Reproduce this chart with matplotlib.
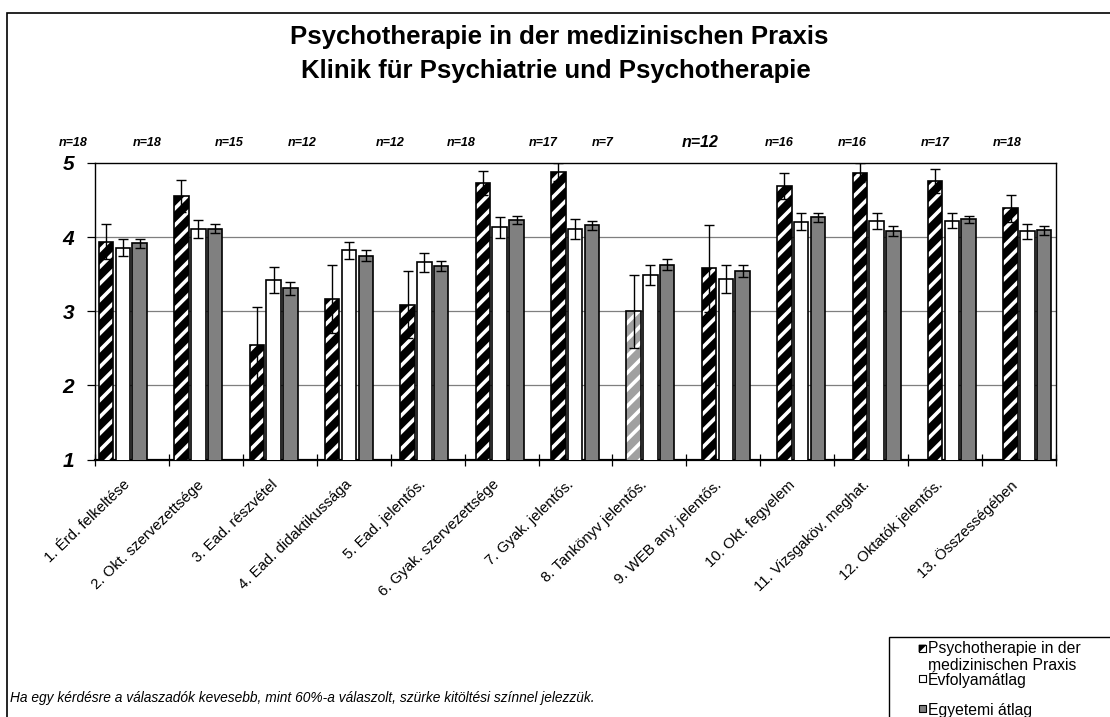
import numpy as np
import matplotlib
matplotlib.use("Agg")
import matplotlib.pyplot as plt
from matplotlib.patches import Rectangle, Polygon
from matplotlib.transforms import ScaledTranslation

plt.rcParams['font.family'] = ['Liberation Sans', 'DejaVu Sans']
plt.rcParams['hatch.linewidth'] = 2.6

# Kérdések (kategóriák)
categories = [
    "1. Érd. felkeltése", "2. Okt. szervezettsége", "3. Ead. részvétel",
    "4. Ead. didaktikussága", "5. Ead. jelentős.", "6. Gyak. szervezettsége",
    "7. Gyak. jelentős.", "8. Tankönyv jelentős.", "9. WEB any. jelentős.",
    "10. Okt. fegyelem", "11. Vizsgaköv. meghat.", "12. Oktatók jelentős.",
    "13. Összességében",
]
n_labels = ["n=18", "n=18", "n=15", "n=12", "n=12", "n=18", "n=17",
            "n=7", "n=12", "n=16", "n=16", "n=17", "n=18"]

# Klinika átlagai és hibái
clinic = [3.94, 4.555, 2.54, 3.17, 3.09, 4.73, 4.88, 3.00, 3.58, 4.69, 4.87, 4.76, 4.39]
clinic_err = [0.24, 0.22, 0.52, 0.46, 0.45, 0.16, 0.12, 0.49, 0.59, 0.18, 0.13, 0.16, 0.18]
# Évfolyamátlag
cohort = [3.86, 4.11, 3.42, 3.82, 3.66, 4.13, 4.11, 3.49, 3.44, 4.21, 4.22, 4.22, 4.08]
cohort_err = [0.12, 0.12, 0.18, 0.12, 0.13, 0.14, 0.14, 0.13, 0.19, 0.11, 0.11, 0.10, 0.10]
# Egyetemi átlag
univ = [3.92, 4.115, 3.31, 3.75, 3.61, 4.23, 4.16, 3.63, 3.54, 4.27, 4.08, 4.24, 4.09]
univ_err = [0.06, 0.06, 0.09, 0.07, 0.07, 0.05, 0.06, 0.08, 0.08, 0.06, 0.07, 0.05, 0.06]
# kevesebb mint 60% válaszolt -> szürke kitöltés
low_response = [False] * 7 + [True] + [False] * 5

legend_labels = ["Psychotherapie in der\nmedizinischen Praxis", "Évfolyamátlag", "Egyetemi átlag"]
title_lines = ["Psychotherapie in der medizinischen Praxis",
               "Klinik für Psychiatrie und Psychotherapie"]
footnote = "Ha egy kérdésre a válaszadók kevesebb, mint 60%-a válaszolt, szürke kitöltési színnel jelezzük."

W, H = 1110, 717


def fpos(x, y):
    # pixel -> figure koordináta
    return x / W, 1 - y / H


fig = plt.figure(figsize=(W / 100, H / 100), dpi=100)
ax = fig.add_axes([95 / W, 1 - 459.5 / H, (1056 - 95) / W, (459.5 - 163) / H])

n = len(categories)
# az oszlopcsoportok kicsit "elcsúsznak" a beosztáshoz képest, mint az eredetin
group_x = 0.3775 + np.arange(n) * 1.0195
off = 0.227
bw = 0.196

ek = dict(ecolor='black', elinewidth=1.0, capsize=3.5, capthick=1.0, fmt='none', zorder=5)

for i in range(n):
    x = group_x[i] - off
    face = '#a0a0a0' if low_response[i] else 'black'
    ax.bar(x, clinic[i], bw, bottom=0, color=face, edgecolor='white', hatch='//', lw=0, zorder=3)
    ax.bar(x, clinic[i], bw, bottom=0, fill=False, edgecolor='black', lw=1.2, zorder=4)

ax.bar(group_x, cohort, bw, color='white', edgecolor='black', lw=1.2, zorder=3)
ax.bar(group_x + off, univ, bw, color='#808080', edgecolor='black', lw=1.2, zorder=3)

ax.errorbar(group_x - off, clinic, yerr=clinic_err, **ek)
ax.errorbar(group_x, cohort, yerr=cohort_err, **ek)
ax.errorbar(group_x + off, univ, yerr=univ_err, **ek)

ax.set_ylim(1, 5)
ax.set_xlim(0, n)
ax.set_yticks([1, 2, 3, 4, 5])
ax.set_yticklabels(['1', '2', '3', '4', '5'], fontsize=15, fontweight='bold', fontstyle='italic')
ax.tick_params(axis='y', length=6, width=0.9, pad=9)
for y in [2, 3, 4]:
    ax.axhline(y, color='#7f7f7f', lw=0.9, zorder=1)

ax.set_xticks(np.arange(n) + 0.5)
ax.set_xticklabels(categories, rotation=44, ha='right', rotation_mode='anchor', fontsize=10.8)
ax.tick_params(axis='x', which='major', length=0, pad=13)
shift = ScaledTranslation(-9 / 100, 0, fig.dpi_scale_trans)
for lab in ax.get_xticklabels():
    lab.set_transform(lab.get_transform() + shift)
ax.set_xticks(np.arange(n + 1), minor=True)
ax.tick_params(axis='x', which='minor', direction='inout', length=8, width=0.9)
for s in ax.spines.values():
    s.set_linewidth(1.0)
ax.spines['bottom'].set_linewidth(1.6)

# n= feliratok
n_shift = [-0.30, -0.30, -0.19, -0.20, -0.01, -0.05, 0.07, -0.13, 0.19, 0.26, 0.25, 0.36, 0.34]
for i, lab in enumerate(n_labels):
    big = (i == 8)
    ax.text(i + n_shift[i], 5.27, lab, ha='center', va='center',
            fontsize=11.5 if big else 9, fontweight='bold', fontstyle='italic', clip_on=False)

# cím
fig.text(*fpos(559, 37), title_lines[0], ha='center', va='center', fontsize=18.5, fontweight='bold')
fig.text(*fpos(556, 71), title_lines[1], ha='center', va='center', fontsize=18.5, fontweight='bold')

# lábjegyzet
fig.text(*fpos(10, 698), footnote, ha='left', va='center', fontsize=9.9, fontstyle='italic')

# keret
x0, y0 = fpos(7, 13)
fig.patches.append(Rectangle((x0, -0.1), 1.2, y0 + 0.1, transform=fig.transFigure,
                             fill=False, edgecolor='black', lw=1.2))

# jelmagyarázat (kézzel)
lx, ly = fpos(889, 637)
fig.patches.append(Rectangle((lx, -0.1), 0.3, ly + 0.1, transform=fig.transFigure,
                             fill=False, edgecolor='black', lw=1.0))
sq = 7
icons = [(648.5, 'black'), (678, 'white'), (708, '#808080')]
for (cy, col) in icons:
    ax0, ay0 = fpos(919, cy + sq / 2)
    fig.patches.append(Rectangle((ax0, ay0), sq / W, sq / H, transform=fig.transFigure,
                                 facecolor='white' if col == 'black' else col,
                                 edgecolor='black', lw=0.8))
    if col == 'black':
        fig.patches.append(Polygon([fpos(919, cy - sq / 2), fpos(919 + sq, cy - sq / 2),
                                    fpos(919, cy + sq / 2)], closed=True,
                                   transform=fig.transFigure, facecolor='black', edgecolor='black', lw=0.5))
fig.text(*fpos(928, 648), legend_labels[0].split("\n")[0], ha='left', va='center', fontsize=11.3)
fig.text(*fpos(928, 665), legend_labels[0].split("\n")[1], ha='left', va='center', fontsize=11.3)
fig.text(*fpos(928, 679), legend_labels[1], ha='left', va='center', fontsize=11.3)
fig.text(*fpos(928, 711), legend_labels[2], ha='left', va='center', fontsize=11.3)

fig.savefig("out.png", dpi=100)
